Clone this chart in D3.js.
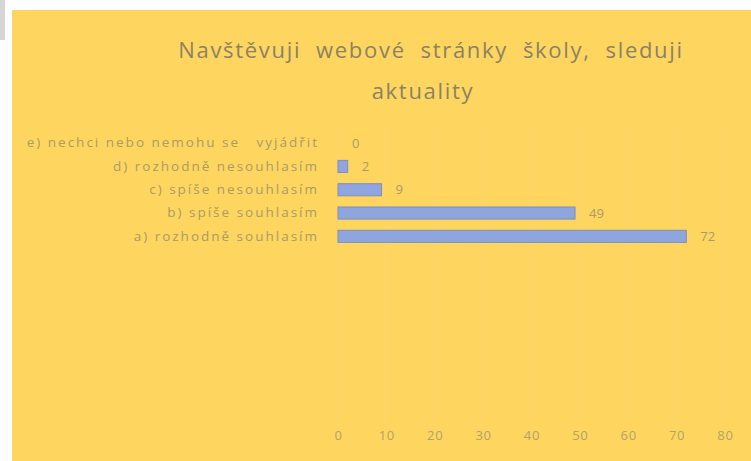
<!DOCTYPE html>
<html>
<head>
<meta charset="utf-8">
<script src="https://cdn.jsdelivr.net/npm/d3@7"></script>
<style>
  body { margin: 0; background: #fff; }
  svg text { font-family: "Open Sans", sans-serif; }
</style>
</head>
<body>
<div id="chart"></div>
<script>
// data
var categories = [
  "e) nechci nebo nemohu se\u00a0\u00a0 vyjádřit",
  "d) rozhodně nesouhlasím",
  "c) spíše nesouhlasím",
  "b) spíše souhlasím",
  "a) rozhodně souhlasím"
];
var values = [0, 2, 9, 49, 72];
var xTicks = [0, 10, 20, 30, 40, 50, 60, 70, 80];
var titleLines = ["Navštěvuji\u00a0 webové\u00a0 stránky\u00a0 školy,\u00a0 sleduji", "aktuality"];

var W = 751, H = 461;

var svg = d3.select("#chart").append("svg")
    .attr("width", W)
    .attr("height", H);

// grey strip top left
svg.append("rect")
  .attr("x", 0).attr("y", 0)
  .attr("width", 5).attr("height", 40)
  .attr("fill", "#d6d6d6");

// yellow chart area
svg.append("rect")
  .attr("x", 12).attr("y", 10)
  .attr("width", W - 12).attr("height", H - 10)
  .attr("fill", "#fed65f");

//Scales
var xscale = d3.scaleLinear()
    .domain([0, 80])
    .range([338, 725]);
var yscale = d3.scaleBand()
    .domain(categories)
    .range([131.5, 248])
    .paddingInner(0.48)
    .paddingOuter(0.24);

// faint gridlines
svg.append("g")
  .selectAll("line")
  .data(xTicks)
  .enter().append("line")
    .attr("x1", function(d){ return xscale(d); })
    .attr("x2", function(d){ return xscale(d); })
    .attr("y1", 128)
    .attr("y2", 425)
    .attr("stroke", "#fdd470")
    .attr("stroke-width", 1);

// title
svg.append("text")
  .attr("x", 431)
  .attr("y", 58)
  .attr("text-anchor", "middle")
  .attr("fill", "#8a8266")
  .style("font-size", "22px")
  .style("letter-spacing", "1.7px")
  .text(titleLines[0]);
svg.append("text")
  .attr("x", 423)
  .attr("y", 99)
  .attr("text-anchor", "middle")
  .attr("fill", "#8a8266")
  .style("font-size", "22px")
  .style("letter-spacing", "1.7px")
  .text(titleLines[1]);

// bars
svg.append("g")
  .selectAll("rect")
  .data(values)
  .enter().append("rect")
    .attr("x", xscale(0))
    .attr("y", function(d, i){ return yscale(categories[i]); })
    .attr("width", function(d){ return xscale(d) - xscale(0); })
    .attr("height", yscale.bandwidth())
    .attr("fill", "#8fa5de")
    .attr("stroke", function(d){ return d > 0 ? "#7d8fbf" : "none"; })
    .attr("stroke-width", 1);

// value labels
svg.append("g")
  .selectAll("text")
  .data(values)
  .enter().append("text")
    .attr("x", function(d){ return xscale(d) + 14; })
    .attr("y", function(d, i){ return yscale(categories[i]) + yscale.bandwidth() / 2; })
    .attr("dy", "0.35em")
    .attr("fill", "#a89c68")
    .style("font-size", "13px")
    .text(function(d){ return d; });

// category axis
var yaxis = d3.axisLeft(yscale).tickSize(0).tickPadding(0);
var gy = svg.append("g")
  .attr("transform", "translate(319,0)")
  .call(yaxis);
gy.select(".domain").remove();
gy.selectAll("text")
  .attr("fill", "#a89c68")
  .style("font-size", "13.5px")
  .style("letter-spacing", "2px")
  .style("font-family", "'Open Sans', sans-serif");

// value axis (labels only)
var xaxis = d3.axisBottom(xscale).tickValues(xTicks).tickSize(0).tickPadding(0);
var gx = svg.append("g")
  .attr("transform", "translate(0,431)")
  .call(xaxis);
gx.select(".domain").remove();
gx.selectAll("text")
  .attr("fill", "#b0a36a")
  .style("font-size", "13px")
  .style("letter-spacing", "0.8px")
  .style("font-family", "'Open Sans', sans-serif");
</script>
</body>
</html>
